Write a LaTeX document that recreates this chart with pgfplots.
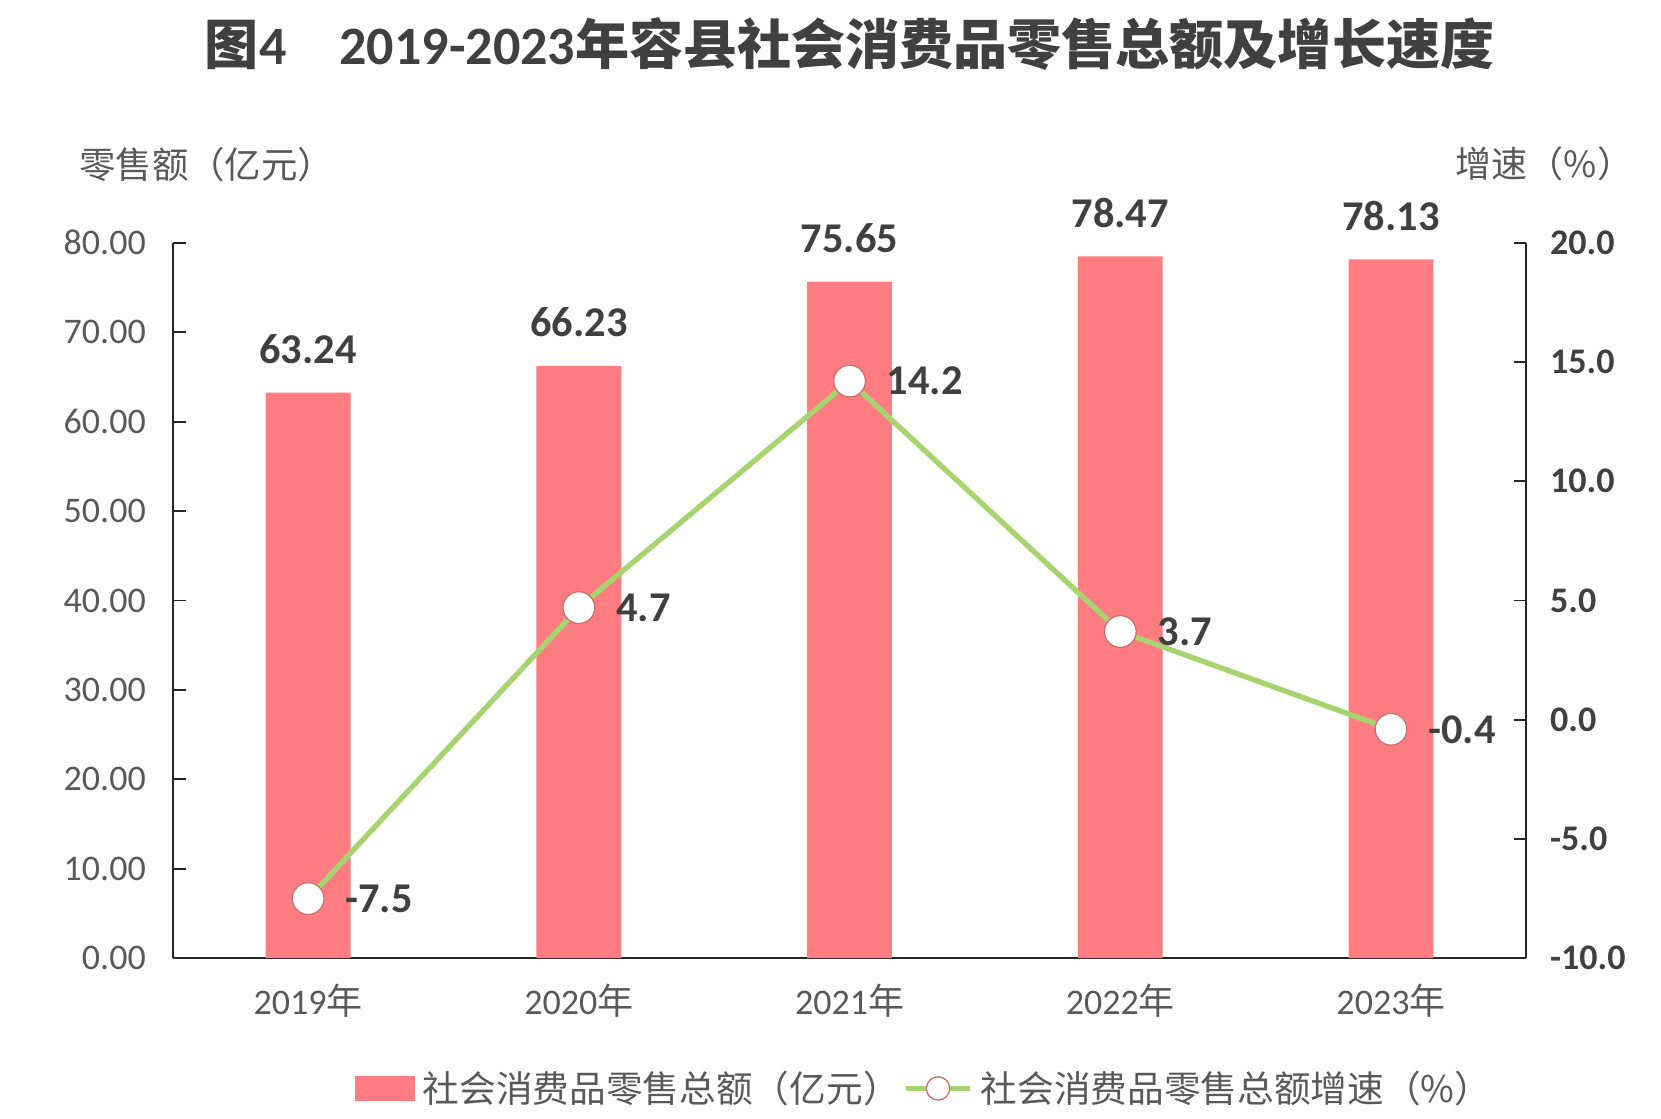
\documentclass[border=0pt]{standalone}
\usepackage{fontspec}
\setmainfont{Carlito}
\newfontfamily\cjk{Noto Sans CJK SC}
\usepackage{pgfplots}
\pgfplotsset{compat=1.18}
\definecolor{barc}{RGB}{255,124,128}
\definecolor{linec}{RGB}{166,212,110}
\definecolor{markc}{RGB}{205,110,110}
\definecolor{txt}{RGB}{89,89,89}
\definecolor{dark}{RGB}{64,64,64}
\pgfplotsset{mylineleg/.style={legend image code/.code={\draw[##1, mark size=5.5pt, line width=2.2pt, mark repeat=2, mark phase=2] plot coordinates {(0pt,0pt) (15pt,0pt) (30pt,0pt)};}}}
\begin{document}
\begin{tikzpicture}[x=1pt,y=1pt]
\path (0,0) rectangle (783.5,527.5);
\node[text=dark, inner sep=0] at (400.75,506.5) {\fontsize{25.5}{25.5}\selectfont\bfseries{\cjk 图}4\hspace{25pt}2019-2023{\cjk 年容县社会消费品零售总额及增长速度}};
\node[text=txt, inner sep=0] at (97.5,450) {\cjk\fontsize{17.2}{17.2}\selectfont 零售额（亿元）};
\node[text=txt, inner sep=0] at (728.5,450) {\cjk\fontsize{17}{17}\selectfont 增速（\%）};
\begin{axis}[
  at={(81.5pt,75.5pt)}, anchor=south west,
  scale only axis, width=638.5pt, height=337.5pt,
  xmin=-0.5, xmax=4.5, ymin=0, ymax=80,
  axis y line*=left, axis x line*=bottom,
  axis line style={black!85, line width=0.9pt},
  ytick={0,10,...,80},
  xtick={0,1,2,3,4},
  xticklabels={2019{\cjk 年},2020{\cjk 年},2021{\cjk 年},2022{\cjk 年},2023{\cjk 年}},
  x tick style={draw=none},
  y tick style={black!85, line width=0.9pt},
  tick align=inside, major tick length=6pt,
  /pgf/number format/assume math mode=true,
  yticklabel style={font=\fontsize{17}{17}\selectfont, text=txt, anchor=east, inner sep=0pt, xshift=-12.5pt,
    /pgf/number format/.cd, fixed, fixed zerofill, precision=2},
  xticklabel style={font=\fontsize{17}{17}\selectfont, text=txt, anchor=center, inner sep=0pt, yshift=-14pt},
  ybar, bar width=40pt,
  clip=false,
]
\addplot[fill=barc, draw=none,
  nodes near coords={\pgfmathprintnumber[fixed,fixed zerofill,precision=2,assume math mode=true]{\pgfplotspointmeta}},
  every node near coord/.append style={anchor=center, yshift=20.5pt, font=\bfseries\fontsize{20}{20}\selectfont, text=dark}]
  coordinates {(0,63.24) (1,66.23) (2,75.65) (3,78.47) (4,78.13)};
\end{axis}
\begin{axis}[
  at={(81.5pt,75.5pt)}, anchor=south west,
  scale only axis, width=638.5pt, height=337.5pt,
  xmin=-0.5, xmax=4.5, ymin=-10, ymax=20,
  axis y line*=right, axis x line=none,
  axis line style={black!85, line width=0.9pt},
  ytick={-10,-5,...,20},
  y tick style={black!85, line width=0.9pt},
  tick align=inside, major tick length=6pt,
  /pgf/number format/assume math mode=true,
  yticklabel style={font=\bfseries\fontsize{17}{17}\selectfont, text=dark, anchor=west, inner sep=0pt, xshift=11pt,
    /pgf/number format/.cd, fixed, fixed zerofill, precision=1},
  clip=false,
  legend columns=2,
  legend style={at={(0.556,-0.182)}, anchor=center, draw=none, fill=none,
    font=\cjk\fontsize{17.3}{17.3}\selectfont, text=txt,
    /tikz/every odd column/.append style={column sep=2pt},
    /tikz/every even column/.append style={column sep=0pt}},
]
\addlegendimage{legend image code/.code={\fill[barc] (0pt,-5.5pt) rectangle (27.5pt,5.5pt);}}
\addlegendentry{社会消费品零售总额（亿元）}
\addplot[linec, line width=2.5pt, mark=*, mark size=7.5pt,
  mark options={fill=white, draw=markc, line width=0.6pt},
  mylineleg,
  nodes near coords={\pgfmathprintnumber[fixed,fixed zerofill,precision=1,assume math mode=true]{\pgfplotspointmeta}},
  every node near coord/.append style={anchor=west, xshift=14pt, yshift=0pt, font=\bfseries\fontsize{20}{20}\selectfont, text=dark}]
  coordinates {(0,-7.5) (1,4.7) (2,14.2) (3,3.7) (4,-0.4)};
\addlegendentry{社会消费品零售总额增速（\%）}
\end{axis}
\end{tikzpicture}
\end{document}
